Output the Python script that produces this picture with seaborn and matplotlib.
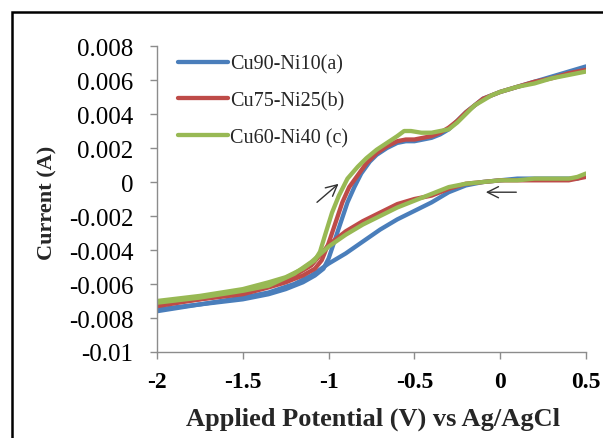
import pandas as pd
import matplotlib
matplotlib.use("Agg")
import matplotlib.pyplot as plt
from matplotlib.patches import Rectangle
import seaborn as sns

sns.set_style("white")
plt.rcParams['font.family'] = ['Liberation Serif', 'DejaVu Serif']

# --- data ---
alloys = ['Cu90-Ni10(a)', 'Cu75-Ni25(b)', 'Cu60-Ni40 (c)']
colors = ['#4A7EBB', '#BE4B48', '#98B954']

# forward (anodic) scan, -2 -> 0.5 V
a_fwd_x = [-2.0, -1.75, -1.5, -1.35, -1.25, -1.15, -1.08, -1.03, -1.0, -0.97, -0.93, -0.89, -0.85, -0.81, -0.76,
           -0.72, -0.66, -0.6, -0.55, -0.5, -0.45, -0.4, -0.35, -0.3, -0.25, -0.2, -0.15, -0.1, -0.05, 0.0,
           0.1, 0.2, 0.3, 0.4, 0.5]
a_fwd_y = [-0.0076, -0.0072, -0.0069, -0.0066, -0.0063, -0.0059, -0.0055, -0.0051, -0.0045, -0.0036, -0.0024,
           -0.0012, -0.0003, 0.0005, 0.0012, 0.0016, 0.0020, 0.0023, 0.0024, 0.0024, 0.0025, 0.0026, 0.0028,
           0.0031, 0.0036, 0.0041, 0.0045, 0.0049, 0.0051, 0.0053, 0.0056, 0.0059, 0.0062, 0.0065, 0.0068]
b_fwd_x = [-2.0, -1.75, -1.5, -1.35, -1.25, -1.15, -1.08, -1.04, -1.0, -0.96, -0.92, -0.88, -0.83, -0.78, -0.72,
           -0.66, -0.6, -0.55, -0.5, -0.45, -0.4, -0.35, -0.3, -0.25, -0.2, -0.15, -0.1, -0.05, 0.0,
           0.1, 0.2, 0.3, 0.4, 0.5]
b_fwd_y = [-0.0073, -0.0069, -0.0066, -0.0062, -0.0059, -0.0055, -0.0051, -0.0046, -0.0036, -0.0024, -0.0012,
           -0.0003, 0.0004, 0.0011, 0.0017, 0.0021, 0.0024, 0.0025, 0.0025, 0.0026, 0.0027, 0.0029, 0.0032,
           0.0036, 0.0041, 0.0045, 0.0049, 0.0051, 0.0053, 0.0056, 0.0059, 0.0061, 0.0064, 0.0066]
c_fwd_x = [-2.0, -1.75, -1.5, -1.35, -1.25, -1.15, -1.08, -1.05, -1.02, -0.98, -0.94, -0.89, -0.83, -0.78, -0.72,
           -0.66, -0.6, -0.56, -0.52, -0.46, -0.4, -0.35, -0.3, -0.25, -0.2, -0.15, -0.1, -0.05, 0.0,
           0.1, 0.2, 0.3, 0.4, 0.5]
c_fwd_y = [-0.0070, -0.0067, -0.0063, -0.0059, -0.0056, -0.0051, -0.0046, -0.0041, -0.0031, -0.0018, -0.0008,
           0.0002, 0.0009, 0.0014, 0.0019, 0.0023, 0.0027, 0.0030, 0.0030, 0.0029, 0.0029, 0.0030, 0.0031,
           0.0035, 0.0040, 0.0045, 0.0048, 0.0051, 0.0053, 0.0056, 0.0058, 0.0061, 0.0063, 0.0065]

# reverse scan, 0.5 -> -2 V
rev_x = [0.5, 0.45, 0.4, 0.3, 0.2, 0.1, 0.0, -0.1, -0.2, -0.3, -0.4, -0.5, -0.6, -0.7, -0.8, -0.9, -1.0,
         -1.1, -1.2, -1.35, -1.5, -1.75, -2.0]
a_rev_y = [0.0004, 0.0002, 0.0002, 0.0002, 0.0002, 0.0002, 0.0001, 0.0000, -0.0002, -0.0006, -0.0012, -0.0017,
           -0.0022, -0.0028, -0.0035, -0.0042, -0.0048, -0.0055, -0.0060, -0.0065, -0.0068, -0.0072, -0.0075]
b_rev_y = [0.0003, 0.0002, 0.0001, 0.0001, 0.0001, 0.0001, 0.0001, 0.0000, -0.0001, -0.0004, -0.0008, -0.0010,
           -0.0013, -0.0018, -0.0023, -0.0029, -0.0037, -0.0049, -0.0055, -0.0061, -0.0065, -0.0069, -0.0072]
c_rev_y = [0.0005, 0.0003, 0.0002, 0.0002, 0.0002, 0.0001, 0.0001, 0.0000, -0.0001, -0.0003, -0.0007, -0.0011,
           -0.0015, -0.0020, -0.0025, -0.0031, -0.0038, -0.0047, -0.0054, -0.0061, -0.0064, -0.0068, -0.0071]

y_ticks = [-0.01, -0.008, -0.006, -0.004, -0.002, 0, 0.002, 0.004, 0.006, 0.008]
y_ticklabels = ['-0.01', '-0.008', '-0.006', '-0.004', '-0.002', '0', '0.002', '0.004', '0.006', '0.008']
x_ticks = [-2, -1.5, -1, -0.5, 0, 0.5]
x_ticklabels = ['-2', '-1.5', '-1', '-0.5', '0', '0.5']

# build long table
rows = []
series = [(alloys[0], a_fwd_x, a_fwd_y, a_rev_y),
          (alloys[1], b_fwd_x, b_fwd_y, b_rev_y),
          (alloys[2], c_fwd_x, c_fwd_y, c_rev_y)]
for name, fx, fy, ry in series:
    for x, y in zip(fx, fy):
        rows.append((name, 'fwd', x, y))
    for x, y in zip(rev_x, ry):
        rows.append((name, 'rev', x, y))
df = pd.DataFrame(rows, columns=['alloy', 'branch', 'E', 'I'])

fig = plt.figure(figsize=(6.03, 4.39), dpi=100)
ax = fig.add_axes([0.2604, 0.1959, 0.7114, 0.6970])

sns.lineplot(data=df, x='E', y='I', hue='alloy', units='branch', estimator=None,
             sort=False, hue_order=alloys, palette=colors, linewidth=3.1, ax=ax)

ax.set_xlim(-2, 0.5)
ax.set_ylim(-0.01, 0.008)
ax.set_xticks(x_ticks)
ax.set_xticklabels(x_ticklabels, fontsize=17, fontweight='bold')
ax.set_yticks(y_ticks)
ax.set_yticklabels(y_ticklabels, fontsize=18)

for s in ['top', 'right']:
    ax.spines[s].set_visible(False)
for s in ['left', 'bottom']:
    ax.spines[s].set_color('#8c8c8c')
    ax.spines[s].set_linewidth(1.0)
ax.tick_params(axis='both', direction='out', length=5, width=1, color='#8c8c8c',
               left=True, bottom=True, labelcolor='black')
ax.tick_params(axis='y', pad=12)
ax.tick_params(axis='x', pad=9)

ax.set_xlabel('Applied Potential (V) vs Ag/AgCl', fontsize=19, fontweight='bold')
ax.set_ylabel('Current (A)', fontsize=16, fontweight='bold')
ax.xaxis.set_label_coords(0.503, -0.178)
ax.yaxis.set_label_coords(-0.233, 0.49)

# scan-direction arrows
ax.annotate('', xy=(-0.93, 0.0000), xytext=(-1.08, -0.0013),
            arrowprops=dict(arrowstyle='->', color='#333333', lw=1.0, mutation_scale=20))
ax.annotate('', xy=(-0.10, -0.0006), xytext=(0.11, -0.0006),
            arrowprops=dict(arrowstyle='->', color='#333333', lw=1.0, mutation_scale=20))

handles, labels = ax.get_legend_handles_labels()
ax.legend(handles, labels, loc='upper left', bbox_to_anchor=(0.03, 0.998), frameon=False,
          fontsize=14.5, handlelength=2.5, handletextpad=0.1, labelspacing=0.86,
          borderaxespad=0)

# outer frame of the picture
fig.patches.append(Rectangle((11.5 / 603, -0.05), 1.2, 1 - 12.5 / 439 + 0.05,
                             transform=fig.transFigure, fill=False,
                             edgecolor='black', linewidth=1.8))

fig.savefig('out.png', dpi=100)
